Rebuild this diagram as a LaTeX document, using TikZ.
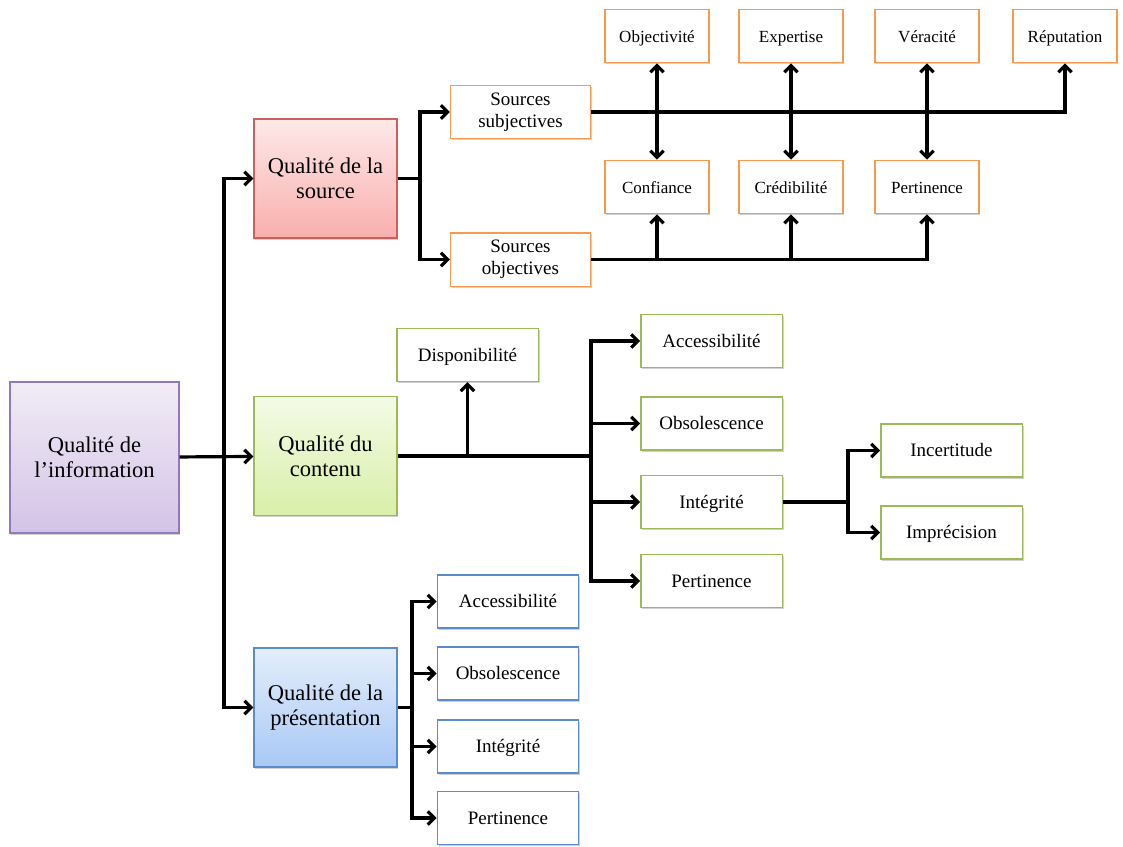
\documentclass[tikz,border=0pt]{standalone}
\usepackage{fontspec}
\setmainfont{Liberation Serif}
\usetikzlibrary{arrows.meta, shadows}

\definecolor{bordOr}{HTML}{F79A4E}
\definecolor{bordVe}{HTML}{9BBB59}
\definecolor{bordBl}{HTML}{5B8BCB}
\definecolor{bordRo}{HTML}{CD605D}
\definecolor{bordVi}{HTML}{9478BC}
\definecolor{viHaut}{HTML}{F1ECF7}
\definecolor{viBas}{HTML}{D3C3E6}
\definecolor{roHaut}{HTML}{FDE9E9}
\definecolor{roBas}{HTML}{F8AFAD}
\definecolor{veHaut}{HTML}{F4FBE6}
\definecolor{veBas}{HTML}{D8EFA8}
\definecolor{blHaut}{HTML}{E4EEFB}
\definecolor{blBas}{HTML}{A9C8F4}

\begin{document}
\begin{tikzpicture}[x=0.75pt, y=-0.75pt,
	ombre/.style={drop shadow={shadow xshift=1pt, shadow yshift=-1.2pt, opacity=0.3, fill=black!60}},
	boite/.style={draw, line width=1pt, ombre, fill=white, align=center, inner sep=0pt},
	uneligne/.style={boite, text height=0.95em, text depth=0.05em},
	grande/.style={boite, minimum width=107.25pt, minimum height=89.25pt, font=\fontsize{16.9}{19}\selectfont},
	boiteor/.style={uneligne, draw=bordOr, minimum width=78pt, minimum height=40pt, font=\fontsize{12.75}{15}\selectfont},
	boitesrc/.style={boite, draw=bordOr, minimum width=105pt, minimum height=40pt, font=\fontsize{14.25}{16.5}\selectfont},
	boiteve/.style={uneligne, draw=bordVe, minimum width=106pt, minimum height=39.75pt, font=\fontsize{14.25}{16.5}\selectfont},
	boitebl/.style={uneligne, draw=bordBl, minimum width=106pt, minimum height=39.75pt, font=\fontsize{14.25}{16.5}\selectfont},
	trait/.style={line width=2.4pt},
	fleche/.style={trait, -{Straight Barb[length=5pt, width=10pt]}},
	bifleche/.style={trait, {Straight Barb[length=5pt, width=10pt]}-{Straight Barb[length=5pt, width=10pt]}}]
	\useasboundingbox (0,0) rectangle (1123,846);

	% Les quatre grandes boites
	\node[grande, draw=bordVi, top color=viHaut, bottom color=viBas, minimum width=126.75pt, minimum height=113.25pt] (info) at (94.5,457.5) {Qualité de\\l’information};
	\node[grande, draw=bordRo, top color=roHaut, bottom color=roBas] (src) at (325.5,178.5) {Qualité de la\\source};
	\node[grande, draw=bordVe, top color=veHaut, bottom color=veBas] (cont) at (325.5,456) {Qualité du\\contenu};
	\node[grande, draw=bordBl, top color=blHaut, bottom color=blBas] (pres) at (325.5,707.5) {Qualité de la\\présentation};

	% Source
	\node[boitesrc] (subj) at (520.5,112) {Sources\\subjectives};
	\node[boitesrc] (obje) at (520.5,259.5) {Sources\\objectives};
	\node[boiteor] (objt) at (657,36) {Objectivité};
	\node[boiteor] (expe) at (791,36) {Expertise};
	\node[boiteor] (vera) at (927,36) {Véracité};
	\node[boiteor] (repu) at (1065,36) {Réputation};
	\node[boiteor] (conf) at (657,187) {Confiance};
	\node[boiteor] (cred) at (791,187) {Crédibilité};
	\node[boiteor] (pert) at (927,187) {Pertinence};

	% Contenu
	\node[boiteve] (dispo) at (467.5,355) {Disponibilité};
	\node[boiteve] (accC) at (711.5,341) {Accessibilité};
	\node[boiteve] (obsC) at (711.5,423.5) {Obsolescence};
	\node[boiteve] (intC) at (711.5,502) {Intégrité};
	\node[boiteve] (pertC) at (711.5,581) {Pertinence};
	\node[boiteve] (inc) at (951.5,450.5) {Incertitude};
	\node[boiteve] (impr) at (951.5,532.5) {Imprécision};

	% Présentation
	\node[boitebl] (accP) at (508,601.5) {Accessibilité};
	\node[boitebl] (obsP) at (508,673.5) {Obsolescence};
	\node[boitebl] (intP) at (508,746.5) {Intégrité};
	\node[boitebl] (pertP) at (508,818) {Pertinence};

	% Liens
	\coordinate (tronc) at (224,457);
	\draw[fleche] (info) -- (cont);
	\draw[fleche] (tronc) |- (src);
	\draw[fleche] (tronc) |- (pres);

	\coordinate (jsrc) at (420,178.5);
	\draw[trait] (src) -- (jsrc);
	\draw[fleche] (jsrc) |- (subj);
	\draw[fleche] (jsrc) |- (obje);
	\draw[fleche] (subj) -| (repu);
	\foreach \h/\b in {objt/conf, expe/cred, vera/pert}
		\draw[bifleche] (\h) -- (\b);
	\draw[fleche] (obje) -| (pert);
	\draw[fleche] (obje -| conf) -- (conf);
	\draw[fleche] (obje -| cred) -- (cred);

	\coordinate (jcont) at (591,456);
	\draw[trait] (cont) -- (jcont);
	\draw[fleche] (cont -| dispo) -- (dispo);
	\foreach \n in {accC, obsC, intC, pertC}
		\draw[fleche] (jcont) |- (\n);
	\coordinate (jint) at (848,502);
	\draw[trait] (intC) -- (jint);
	\draw[fleche] (jint) |- (inc);
	\draw[fleche] (jint) |- (impr);

	\coordinate (jpres) at (412,707.5);
	\draw[trait] (pres) -- (jpres);
	\foreach \n in {accP, obsP, intP, pertP}
		\draw[fleche] (jpres) |- (\n);
\end{tikzpicture}
\end{document}
